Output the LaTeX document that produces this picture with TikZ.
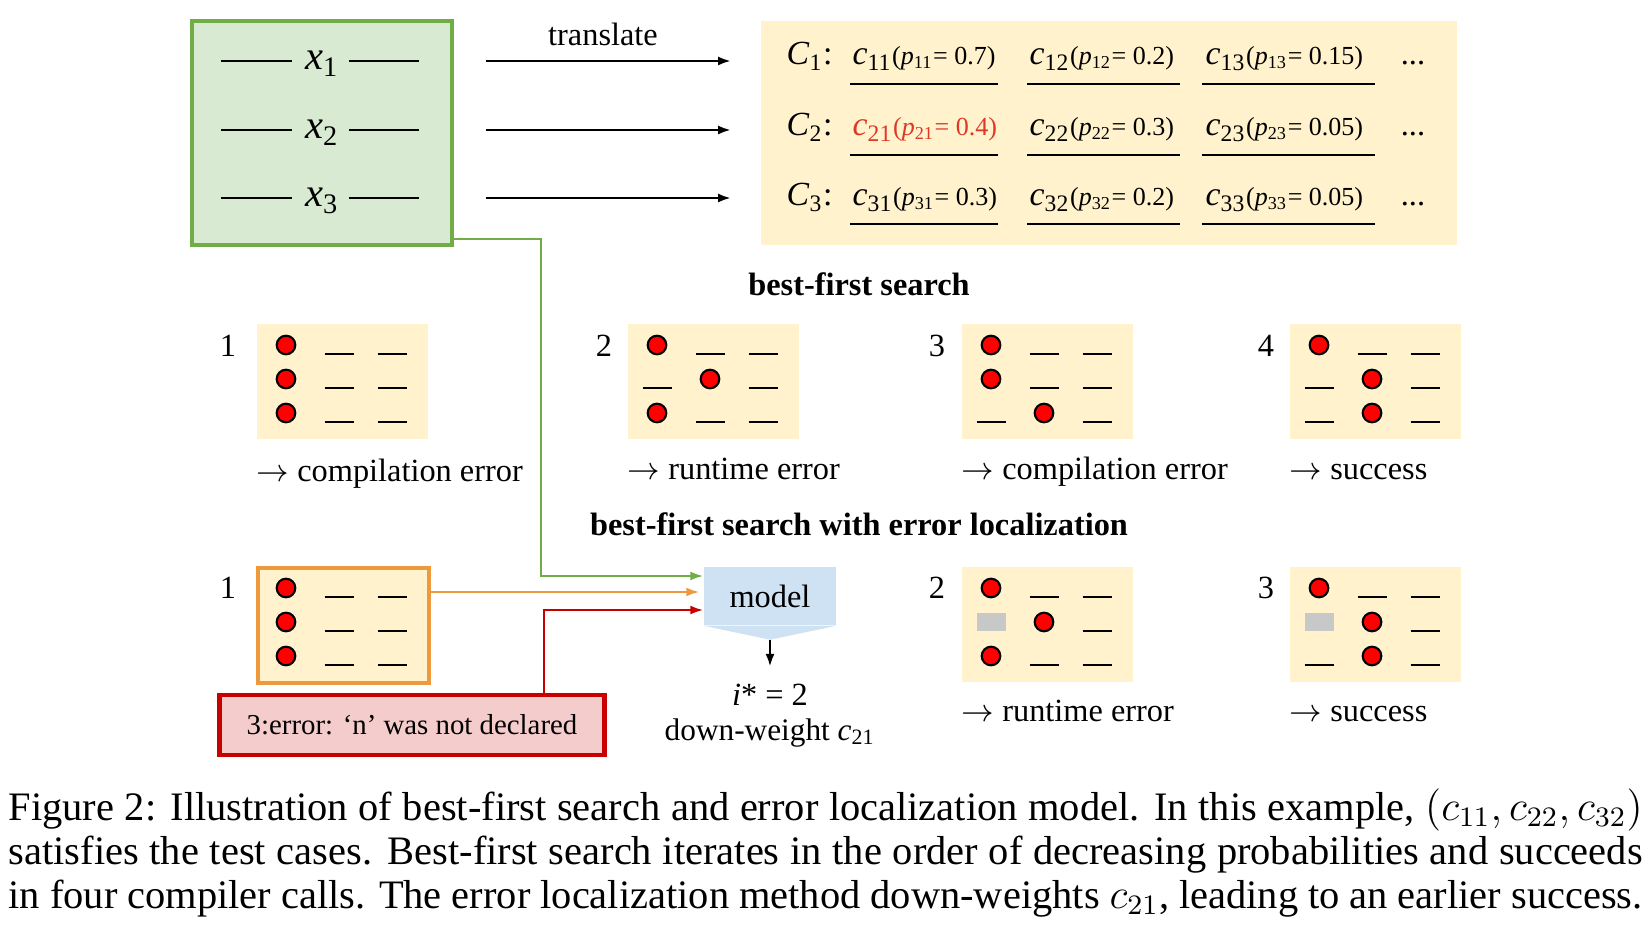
\documentclass[tikz,border=0pt]{standalone}
\usepackage{fontspec}
\setmainfont{Liberation Serif}
\usetikzlibrary{arrows.meta,positioning}

\definecolor{srcgreen}{RGB}{112,173,71}
\definecolor{srcfill}{RGB}{217,234,211}
\definecolor{candfill}{RGB}{255,242,204}
\definecolor{edgeorange}{RGB}{237,153,62}
\definecolor{errred}{RGB}{200,0,0}
\definecolor{errfill}{RGB}{244,204,204}
\definecolor{modelfill}{RGB}{207,226,243}
\definecolor{maskgrey}{RGB}{200,200,200}
\definecolor{pickred}{RGB}{222,56,38}

\newcommand{\lsub}[1]{\textsubscript{#1}}
\newcommand{\candsmall}{\fontsize{7.4}{9}\selectfont}
\newcommand{\cand}[2]{\textit{c}\lsub{#1}{\candsmall(\textit{p}\lsub{#1}= #2)}}

% 3x3 program grid: o = chosen line, - = other candidate, g = masked line
\newcommand{\progrid}[5]{%
  \node[gridbox,#4] (#1) at (#2,#3) {};
  \foreach \cell [count=\k from 0] in {#5} {
    \pgfmathtruncatemacro{\gr}{floor(\k/3)}
    \pgfmathtruncatemacro{\gc}{\k-3*\gr}
    \pgfmathsetmacro{\cx}{#2+30+53*\gc}
    \pgfmathsetmacro{\cy}{#3+22+34*\gr}
    \if o\cell \draw[pick] (\cx,\cy) circle (0.093cm); \fi
    \if -\cell \draw[blank] (\cx-14.5,\cy+9) -- (\cx+14.5,\cy+9); \fi
    \if g\cell \fill[maskgrey] (\cx-14.5,\cy-9) rectangle (\cx+14.5,\cy+9); \fi
  }%
}

\begin{document}
\begin{tikzpicture}[x=0.01cm,y=-0.01cm,font=\fontsize{9.2}{11}\selectfont]
  \tikzset{>={Latex[length=1.3mm,width=0.9mm]},
    srcbox/.style={draw=srcgreen,fill=srcfill,line width=1.1pt,minimum width=2.6cm,minimum height=2.24cm},
    gridbox/.style={fill=candfill,anchor=north west,inner sep=0pt,minimum width=1.71cm,minimum height=1.15cm},
    tried/.style={draw=edgeorange,line width=1.2pt},
    pick/.style={fill=red,draw=black,line width=0.6pt},
    blank/.style={line width=0.7pt},
    modelbox/.style={fill=modelfill,minimum width=1.32cm,minimum height=0.58cm,inner sep=0pt},
    errbox/.style={draw=errred,fill=errfill,line width=1.4pt,minimum width=3.85cm,minimum height=0.6cm,font=\fontsize{8.2}{10}\selectfont},
    head/.style={font=\fontsize{9.2}{11}\selectfont\bfseries},
    outcome/.style={anchor=base west,inner sep=0pt},
    feed/.style={->,line width=0.6pt}}
  \useasboundingbox (0,0) rectangle (1652,925);

  % source lines
  \node[srcbox] (src) at (322,133) {};
  \coordinate (r1) at (0,61);
  \coordinate (r2) at (0,130);
  \coordinate (r3) at (0,198);
  \foreach \i in {1,2,3} {
    \node[anchor=base,inner sep=0pt,font=\fontsize{11.5}{13}\selectfont] (x\i) at (r\i -| src) [yshift=-0.09cm] {\textit{x}\lsub{\i}};
    \draw[line width=0.7pt] (221,0 |- r\i) -- (292,0 |- r\i);
    \draw[line width=0.7pt] (349,0 |- r\i) -- (419,0 |- r\i);
  }

  % candidates
  \fill[candfill] (761,21) rectangle (1457,245);
  \node (cbox) at (1109,133) [minimum width=6.96cm,minimum height=2.24cm] {};
  \foreach \i in {1,2,3}
    \draw[->,line width=0.7pt,shorten <=0.32cm,shorten >=0.29cm] (r\i -| src.east) -- (r\i -| cbox.west);
  \node (tr) at (603,34) {translate};

  \begin{scope}[every node/.style={anchor=base west,inner sep=0pt,font=\fontsize{9.6}{11}\selectfont}]
    \node (C1) at (786,65) {\textit{C}\lsub{1}:};
    \node (c11) at (852,65) {\cand{11}{0.7}};
    \node (c12) at (1029,65) {\cand{12}{0.2}};
    \node (c13) at (1205,65) {\cand{13}{0.15}};
    \node (C2) at (786,136) {\textit{C}\lsub{2}:};
    \node[text=pickred] (c21) at (852,136) {\cand{21}{0.4}};
    \node (c22) at (1029,136) {\cand{22}{0.3}};
    \node (c23) at (1205,136) {\cand{23}{0.05}};
    \node (C3) at (786,206) {\textit{C}\lsub{3}:};
    \node (c31) at (852,206) {\cand{31}{0.3}};
    \node (c32) at (1029,206) {\cand{32}{0.2}};
    \node (c33) at (1205,206) {\cand{33}{0.05}};
  \end{scope}
  \foreach \y in {65,136,206}
    \node[anchor=base] at (1413,\y) {...};
  \foreach \y in {84,155,224}
    \foreach \a/\b in {850/998,1027/1180,1202/1375}
      \draw[line width=0.8pt] (\a,\y) -- (\b,\y);

  % best-first search
  \node[head] (bfs) at (859,284) {best-first search};
  \progrid{bf1}{256}{323}{}{o,-,-,o,-,-,o,-,-}
  \progrid{bf2}{627}{323}{}{o,-,-,-,o,-,o,-,-}
  \progrid{bf3}{961}{323}{}{o,-,-,o,-,-,-,o,-}
  \progrid{bf4}{1289}{323}{}{o,-,-,-,o,-,-,o,-}
  \node at (228,346) {1};
  \node at (604,346) {2};
  \node at (937,346) {3};
  \node at (1266,346) {4};
  \node[outcome] at (256,482) {$\rightarrow$ compilation error};
  \node[outcome] at (627,480) {$\rightarrow$ runtime error};
  \node[outcome] at (961,480) {$\rightarrow$ compilation error};
  \node[outcome] at (1289,480) {$\rightarrow$ success};

  % with error localization
  \node[head] (bfel) at (859,524) {best-first search with error localization};
  \progrid{el1}{256}{566}{tried}{o,-,-,o,-,-,o,-,-}
  \progrid{el2}{961}{566}{}{o,-,-,g,o,-,o,-,-}
  \progrid{el3}{1289}{566}{}{o,-,-,g,o,-,-,o,-}
  \node at (228,588) {1};
  \node at (937,588) {2};
  \node at (1266,588) {3};
  \node[outcome] at (961,721) {$\rightarrow$ runtime error};
  \node[outcome] at (1289,721) {$\rightarrow$ success};

  \node[errbox] (err) at (412,725) {3:error: `n' was not declared};

  \node[modelbox] (model) at (770,596) {model};
  \fill[modelfill] (model.south west) -- (model.south east) -- ([yshift=-0.14cm]model.south) -- cycle;
  \coordinate (tip) at ([yshift=-0.14cm]model.south);
  \node (istar) at (770,695) {\textit{i}* = 2};
  \node[font=\fontsize{8.9}{11}\selectfont] (dw) at (770,733) {down-weight \textit{c}\lsub{21}};
  \draw[->,line width=0.7pt,shorten >=0.05cm] (tip) -- (istar.north);

  \coordinate (inG) at ([yshift=0.2cm]model.west);
  \coordinate (inO) at ([yshift=0.04cm]model.west);
  \coordinate (inR) at ([yshift=-0.14cm]model.west);
  \coordinate (gout) at ([yshift=0.08cm]src.south east);
  \draw[feed,srcgreen] (gout) -| ([xshift=-1.62cm]inG) -- (inG);
  \draw[feed,edgeorange,shorten >=0.04cm] (inO -| el1.east) -- (inO);
  \draw[feed,errred] ([xshift=1.32cm]err.north) |- (inR);

  % caption
  \node[anchor=north west,inner sep=0pt,text width=16.33cm,align=justify,
        font=\fontsize{11.5}{12.5}\selectfont] (cap) at (8,788) {\parfillskip=0pt
    Figure 2: Illustration of best-first search and error localization model. In this example, $(c_{11}, c_{22}, c_{32})$\linebreak
    satisfies the test cases. Best-first search iterates in the order of decreasing probabilities and succeeds\linebreak
    in four compiler calls. The error localization method down-weights $c_{21}$, leading to an earlier success.};
\end{tikzpicture}
\end{document}
